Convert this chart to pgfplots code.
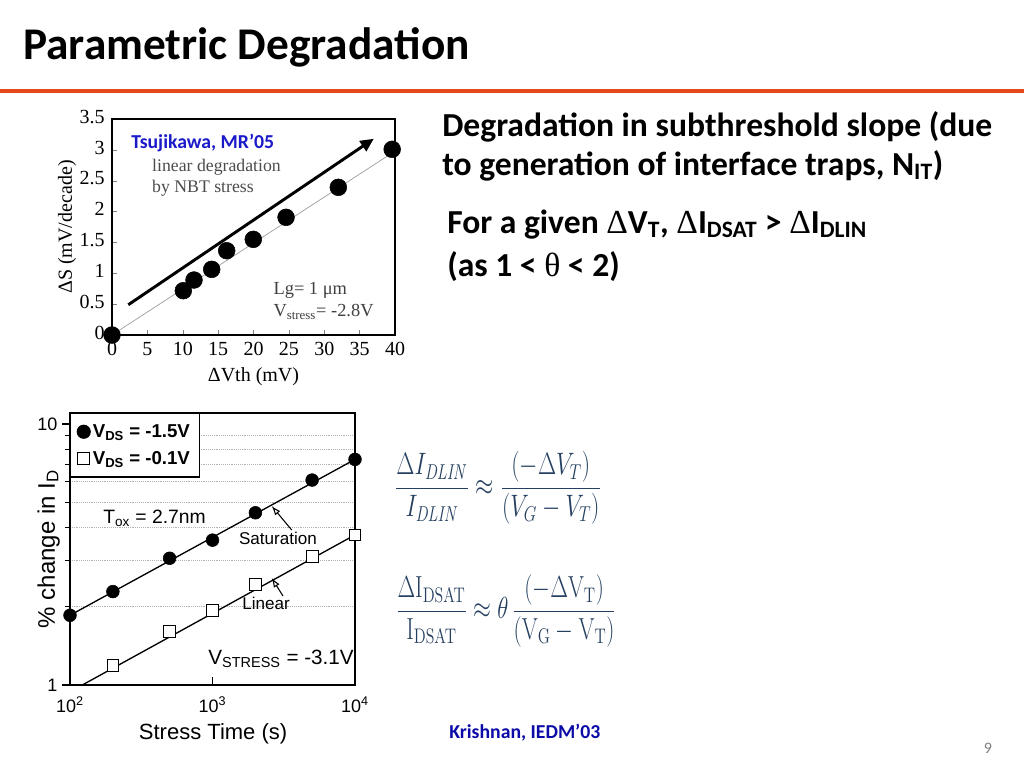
\documentclass[border=0pt]{standalone}
\usepackage{graphicx}
\usepackage{pgfplots}
\pgfplotsset{compat=1.18}
\usetikzlibrary{arrows.meta}
\usepackage[no-math]{fontspec}
\setmainfont{Carlito}
\newfontfamily\tms{Liberation Serif}
\newfontfamily\arl{Liberation Sans}
\definecolor{orangeline}{HTML}{E5481B}
\definecolor{eqblue}{HTML}{243F60}
\definecolor{tsublue}{HTML}{1A1AC8}
\definecolor{krisblue}{HTML}{0B0BA8}
\begin{document}
\begin{tikzpicture}[x=0.75pt,y=-0.75pt]
\fill[white] (0,0) rectangle (1024,768);
\path[use as bounding box] (0,0) rectangle (1024,768);
% title
\node[anchor=base west, inner sep=0, font=\bfseries\fontsize{34}{38}\selectfont] at (23,59) {Parametric Degradation};
\draw[orangeline, line width=3pt] (0,91.3) -- (1024,91.3);
% right text
\node[anchor=base west, inner sep=0, font=\bfseries\fontsize{25.2}{30}\selectfont] at (442,136) {Degradation in subthreshold slope (due};
\node[anchor=base west, inner sep=0, font=\bfseries\fontsize{25.2}{30}\selectfont] at (442,175) {to generation of interface traps, N\textsubscript{IT})};
\node[anchor=base west, inner sep=0, font=\bfseries\fontsize{25.2}{30}\selectfont] at (447,233) {For a given {\tms\mdseries Δ}V\textsubscript{T}, {\tms\mdseries Δ}I\textsubscript{DSAT} > {\tms\mdseries Δ}I\textsubscript{DLIN}};
\node[anchor=base west, inner sep=0, font=\bfseries\fontsize{25.2}{30}\selectfont] at (447,276) {(as 1 < {\tms\mdseries θ} < 2)};
% equations
\node[text=eqblue, font=\fontsize{20}{24}\selectfont] at (498,488) {\scalebox{0.85}[1.12]{$\displaystyle\frac{\Delta I_{\mathit{DLIN}}}{I_{\mathit{DLIN}}}\approx\frac{(-\Delta V_{T})}{(V_{G}-V_{T})}$}};
\node[text=eqblue, font=\fontsize{20}{24}\selectfont] at (506,611) {\scalebox{0.83}[1.1]{$\displaystyle\frac{\Delta \mathrm{I}_{\mathrm{DSAT}}}{\mathrm{I}_{\mathrm{DSAT}}}\approx\theta\,\frac{(-\Delta \mathrm{V}_{\mathrm{T}})}{(\mathrm{V}_{\mathrm{G}}-\mathrm{V}_{\mathrm{T}})}$}};
% credits
\node[anchor=west, inner sep=0, text=krisblue, font=\bfseries\fontsize{14.8}{16}\selectfont] at (449,733) {Krishnan, IEDM’03};
\node[text=gray, font=\fontsize{12}{14}\selectfont] at (988,748) {9};

% ---------------- top chart
\coordinate (A1) at (112,335);
\begin{axis}[at={(A1)}, anchor=south west, scale only axis,
  width=212.25pt, height=162pt,
  xmin=0, xmax=40, ymin=0, ymax=3.5,
  xtick={0,5,10,15,20,25,30,35,40},
  ytick={0,0.5,1,1.5,2,2.5,3,3.5},
  tick align=inside, tick pos=left, major tick length=4pt,
  axis line style={line width=0.8pt},
  /pgf/number format/assume math mode=true,
  typeset ticklabels with strut,
  ticklabel style={font=\tms\fontsize{15}{16}\selectfont},
  xticklabel style={yshift=-1pt},
  yticklabel style={xshift=-2pt},
  xlabel={ΔVth (mV)}, ylabel={ΔS (mV/decade)},
  label style={font=\tms\fontsize{15}{16}\selectfont},
  xlabel style={at={(axis description cs:0.5,-0.194)}, anchor=center},
  ylabel style={at={(axis description cs:-0.159,0.5)}, anchor=center},
  clip=false]
\addplot[gray!80, line width=0.5pt] coordinates {(0,0) (40,2.98)};
\addplot[only marks, mark=*, mark size=6.3pt, black] coordinates {
 (0,0) (10.08,0.718) (11.59,0.891) (14.09,1.064) (16.21,1.366)
 (19.97,1.55) (24.6,1.907) (31.99,2.393) (39.6,3.009)};
\draw[line width=2.2pt, -{Triangle[length=10pt,width=9pt]}] (axis cs:2.3,0.49) -- (axis cs:37,3.18);
\node[anchor=west, inner sep=0, text=tsublue, font=\bfseries\fontsize{14.8}{15}\selectfont] at (axis cs:2.69,3.11) {Tsujikawa, MR’05};
\node[anchor=north west, inner sep=0, align=left, text=black!70, font=\tms\fontsize{13.3}{16}\selectfont] at (axis cs:5.65,2.86) {linear degradation\\by NBT stress};
\node[anchor=north west, inner sep=0, align=left, text=black!75, font=\tms\fontsize{13.8}{16.5}\selectfont] at (axis cs:22.8,0.86) {Lg= 1 μm\\V\textsubscript{stress}= -2.8V};
\end{axis}

% ---------------- bottom chart
\coordinate (A2) at (70,685);
\begin{axis}[at={(A2)}, anchor=south west, scale only axis,
  width=213.75pt, height=204pt,
  xmode=log, ymode=log,
  xmin=100, xmax=10000, ymin=1, ymax=11.02,
  xtick={100,1000,10000},
  xticklabels={10\textsuperscript{2},10\textsuperscript{3},10\textsuperscript{4}},
  ytick={1,10}, yticklabels={1,10},
  minor ytick={2,3,4,5,6,7,8,9},
  xminorticks=false,
  yminorgrids=true,
  minor grid style={densely dotted, gray!60, line width=0.7pt},
  xtick pos=bottom, ytick pos=left,
  xtick align=inside, ytick align=outside,
  major tick length=6pt, minor tick length=4pt,
  axis line style={line width=0.9pt},
  every tick/.style={black, line width=0.8pt},
  ticklabel style={font=\arl\fontsize{13.5}{14}\selectfont},
  xticklabel style={yshift=-5pt},
  xlabel={Stress Time (s)}, ylabel={\% change in I\textsubscript{D}},
  label style={font=\arl\fontsize{16.5}{18}\selectfont},
  xlabel style={at={(axis description cs:0.502,-0.18)}, anchor=center},
  ylabel style={at={(axis description cs:-0.075,0.5)}, anchor=center, font=\arl\fontsize{18}{19}\selectfont},
  legend style={at={(0,1)}, anchor=north west, draw=black, line width=1pt, fill=white,
    font=\arl\bfseries\fontsize{14}{15}\selectfont, inner xsep=5pt, inner ysep=6pt, row sep=5pt},
  legend cell align=left,
  clip=false]
\addplot[black, line width=1pt, forget plot] coordinates {(100,1.85) (10000,7.32)};
\addplot[black, line width=1pt, forget plot] coordinates {(122,1) (10000,3.76)};
\addplot[only marks, mark=*, mark size=4.8pt, black] coordinates {
 (100,1.85) (200,2.28) (500,3.06) (1000,3.59) (2000,4.57) (5000,6.10) (10000,7.32)};
\addlegendentry{V\textsubscript{DS} = -1.5V}
\addplot[only marks, mark=square*, mark size=4.4pt, black, mark options={fill=white, line width=0.7pt}] coordinates {
 (200,1.19) (500,1.60) (1000,1.93) (2000,2.43) (5000,3.10) (10000,3.76)};
\addlegendentry{V\textsubscript{DS} = -0.1V}
\end{axis}
% annotations bottom chart (pixel coordinates)
\node[anchor=west, inner sep=0, font=\arl\fontsize{14.5}{16}\selectfont] at (103,518) {T\textsubscript{ox} = 2.7nm};
\node[anchor=base east, inner sep=0, font=\arl\fontsize{15.5}{16}\selectfont] at (354,664) {V\textsubscript{STRESS} = -3.1V};
\node[inner sep=0, font=\arl\fontsize{12.8}{14}\selectfont] at (278,538) {Saturation};
\node[inner sep=0, font=\arl\fontsize{12.8}{14}\selectfont] at (266,603) {Linear};
\draw[line width=0.8pt, -{Latex[open,length=7pt,width=5pt]}] (291.7,530) -- (271.7,506);
\draw[line width=0.8pt, -{Latex[open,length=7pt,width=5pt]}] (283,596) -- (271.7,578);
\end{tikzpicture}
\end{document}
